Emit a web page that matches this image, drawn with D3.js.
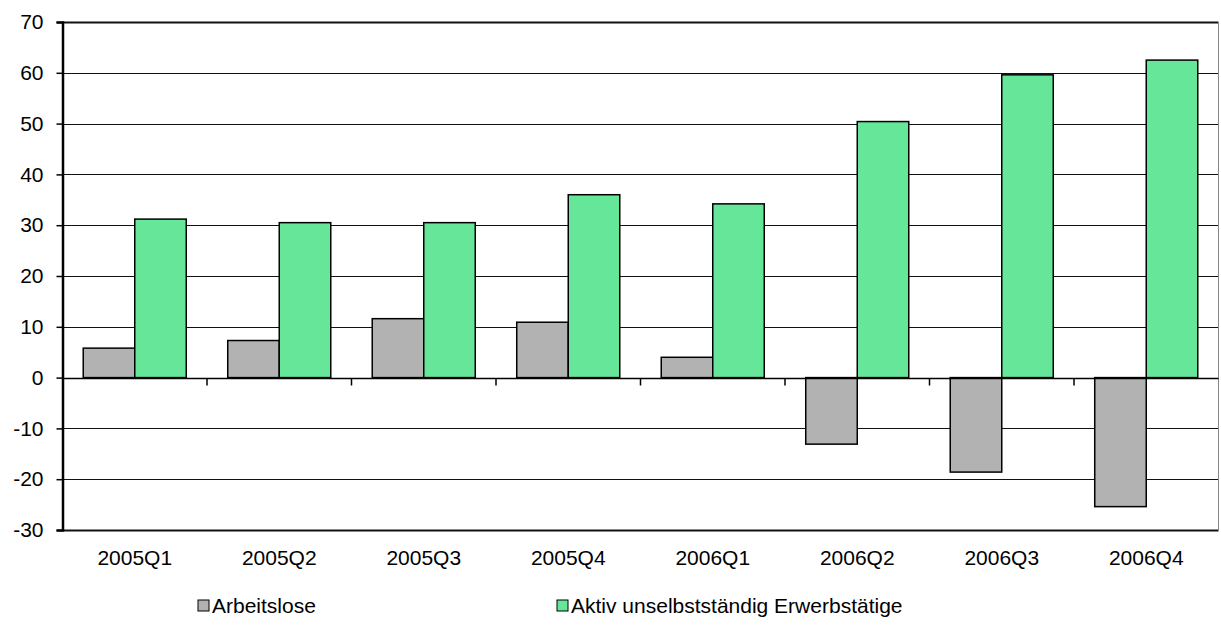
<!DOCTYPE html>
<html>
<head>
<meta charset="utf-8">
<script src="https://cdn.jsdelivr.net/npm/d3@7"></script>
<style>
  body { margin: 0; background: #fff; }
  text { font-family: "Liberation Sans", Arial, sans-serif; }
</style>
</head>
<body>
<div id="chart"></div>
<script>
/* Data */
const QUARTERS = ["2005Q1", "2005Q2", "2005Q3", "2005Q4", "2006Q1", "2006Q2", "2006Q3", "2006Q4"]
const ARBEITSLOSE = [5.8, 7.3, 11.6, 10.9, 4.0, -13.1, -18.6, -25.4]
const ERWERBSTAETIGE = [31.2, 30.5, 30.5, 36.0, 34.2, 50.4, 59.6, 62.5]
const SERIES_NAMES = ["Arbeitslose", "Aktiv unselbstständig Erwerbstätige"]
const Y_TICKS = [-30, -20, -10, 0, 10, 20, 30, 40, 50, 60, 70]

/* Layout constants */
const WIDTH = 1221
const HEIGHT = 644
const PLOT = {"LEFT": 62.5, "RIGHT": 1218.5, "TOP": 22, "BOTTOM": 530}
const COLORS = {"GRAY": "#b2b2b2", "GREEN": "#66e699"}
const FONT_SIZE = 21

const svg = d3.select("#chart")
              .append("svg")
              .attr("width", WIDTH)
              .attr("height", HEIGHT);

const x = d3.scaleBand()
            .domain(QUARTERS)
            .range([PLOT.LEFT, PLOT.RIGHT])
            .paddingInner(0.287)
            .paddingOuter(0.1435);
const xInner = d3.scaleBand()
                 .domain([0, 1])
                 .range([0, x.bandwidth()]);
const y = d3.scaleLinear()
            .domain([-30, 70])
            .range([PLOT.BOTTOM, PLOT.TOP]);
const step = (PLOT.RIGHT - PLOT.LEFT) / QUARTERS.length;

/* gridlines */
svg.append("g")
   .selectAll("line")
   .data(Y_TICKS)
   .enter()
   .append("line")
   .attr("x1", PLOT.LEFT)
   .attr("x2", PLOT.RIGHT)
   .attr("y1", (d) => Math.round(y(d)) + 0.5)
   .attr("y2", (d) => Math.round(y(d)) + 0.5)
   .attr("stroke", "#111")
   .attr("stroke-width", (d) => (d === 70 || d === -30) ? 2 : 1);

/* right border */
svg.append("line")
   .attr("x1", PLOT.RIGHT).attr("x2", PLOT.RIGHT)
   .attr("y1", PLOT.TOP).attr("y2", PLOT.BOTTOM)
   .attr("stroke", "#888")
   .attr("stroke-width", 1);

/* bars */
const groups = svg.append("g")
                  .selectAll("g")
                  .data(QUARTERS)
                  .enter()
                  .append("g")
                  .attr("transform", (d) => "translate(" + x(d) + ",0)");
groups.append("rect")
      .attr("x", xInner(0))
      .attr("width", xInner.bandwidth())
      .attr("y", (d, i) => y(Math.max(0, ARBEITSLOSE[i])))
      .attr("height", (d, i) => Math.abs(y(ARBEITSLOSE[i]) - y(0)))
      .attr("fill", COLORS.GRAY)
      .attr("stroke", "#000")
      .attr("stroke-width", 1.5);
groups.append("rect")
      .attr("x", xInner(1))
      .attr("width", xInner.bandwidth())
      .attr("y", (d, i) => y(Math.max(0, ERWERBSTAETIGE[i])))
      .attr("height", (d, i) => Math.abs(y(ERWERBSTAETIGE[i]) - y(0)))
      .attr("fill", COLORS.GREEN)
      .attr("stroke", "#000")
      .attr("stroke-width", 1.5);

/* x axis at zero */
const xAxisY = Math.round(y(0)) + 0.5;
svg.append("line")
   .attr("x1", PLOT.LEFT).attr("x2", PLOT.RIGHT)
   .attr("y1", xAxisY).attr("y2", xAxisY)
   .attr("stroke", "#000")
   .attr("stroke-width", 1.5);
svg.append("g")
   .selectAll("line")
   .data(d3.range(1, QUARTERS.length))
   .enter()
   .append("line")
   .attr("x1", (d) => PLOT.LEFT + d * step)
   .attr("x2", (d) => PLOT.LEFT + d * step)
   .attr("y1", xAxisY)
   .attr("y2", xAxisY + 7)
   .attr("stroke", "#000")
   .attr("stroke-width", 1.5);

/* y axis */
const yAxis = d3.axisLeft(y)
                .tickValues(Y_TICKS)
                .tickFormat((d) => String(d))
                .tickSize(6)
                .tickPadding(13);
const yAxisG = svg.append("g")
                  .attr("transform", "translate(" + PLOT.LEFT + ",0)")
                  .call(yAxis);
yAxisG.select(".domain").attr("stroke", "#000").attr("stroke-width", 2.5);
yAxisG.selectAll(".tick line").attr("stroke", "#000").attr("stroke-width", 1.5);
yAxisG.selectAll(".tick text")
      .attr("font-size", FONT_SIZE)
      .attr("font-family", "Liberation Sans, Arial, sans-serif")
      .attr("fill", "#000");

/* category labels */
svg.append("g")
   .selectAll("text")
   .data(QUARTERS)
   .enter()
   .append("text")
   .attr("x", (d) => x(d) + x.bandwidth() / 2)
   .attr("y", 565)
   .attr("text-anchor", "middle")
   .attr("font-size", FONT_SIZE)
   .attr("fill", "#000")
   .text((d) => d);

/* legend */
const LEGEND = [{"x": 198, "color": COLORS.GRAY}, {"x": 557, "color": COLORS.GREEN}];
const legendG = svg.append("g")
                   .selectAll("g")
                   .data(SERIES_NAMES)
                   .enter()
                   .append("g")
                   .attr("transform", (d, i) => "translate(" + LEGEND[i].x + ",0)");
legendG.append("rect")
       .attr("x", 0)
       .attr("y", 600)
       .attr("width", 11)
       .attr("height", 11)
       .attr("fill", (d, i) => LEGEND[i].color)
       .attr("stroke", "#000")
       .attr("stroke-width", 1);
legendG.append("text")
       .attr("x", 14)
       .attr("y", 613)
       .attr("font-size", FONT_SIZE)
       .attr("fill", "#000")
       .text((d) => d);
</script>
</body>
</html>
